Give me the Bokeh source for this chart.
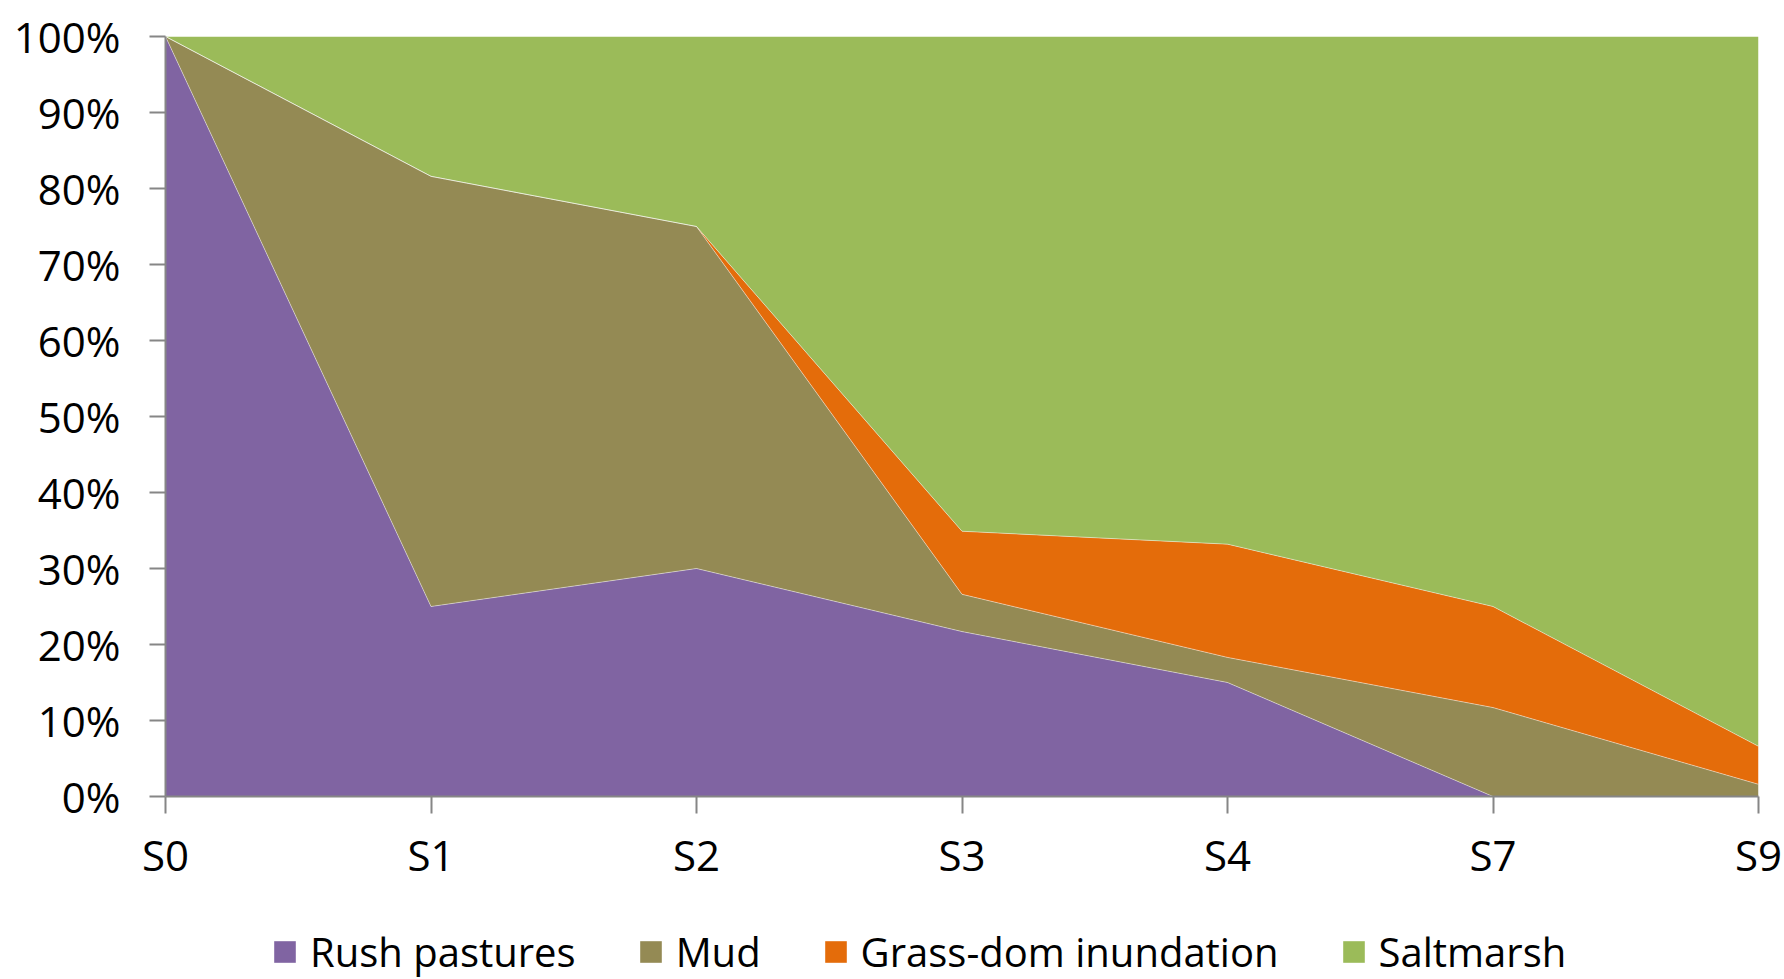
from bokeh.plotting import figure
from bokeh.layouts import column
from bokeh.models import Legend, LegendItem, FixedTicker, NumeralTickFormatter, ColumnDataSource, Range1d
from bokeh.embed import file_html
from bokeh.resources import INLINE

categories = ["S0", "S1", "S2", "S3", "S4", "S7", "S9"]
rush = [100, 25, 30, 21.7, 15, 0, 0]
mud = [0, 56.6, 45, 4.9, 3.3, 11.7, 1.6]
grass = [0, 0, 0, 8.3, 14.9, 13.3, 5.0]
salt = [0, 18.4, 25, 65.1, 66.8, 75, 93.4]

names = ["Rush pastures", "Mud", "Grass-dom inundation", "Saltmarsh"]
colors = ["#8064A2", "#948A54", "#E46C0A", "#9BBB59"]
series = [rush, mud, grass, salt]

FONT = "Open Sans"
x = list(range(len(categories)))
data = {"x": x}
for n, s in zip(names, series):
    data[n] = [v / 100.0 for v in s]
src = ColumnDataSource(data)

p = figure(width=1784, height=896, output_backend="svg", toolbar_location=None,
           x_range=Range1d(0, len(categories) - 1), y_range=Range1d(0, 1),
           min_border_left=165, min_border_right=26, min_border_top=36, min_border_bottom=100)
p.outline_line_color = None
p.xgrid.visible = False
p.ygrid.visible = False

p.varea_stack(stackers=names, x="x", color=colors, source=src)

# thin light separators between stacked layers
cum = [0.0] * len(x)
for s in series[:-1]:
    cum = [c + v / 100.0 for c, v in zip(cum, s)]
    p.line(x, list(cum), line_color="white", line_alpha=0.45, line_width=1)

p.xaxis.ticker = FixedTicker(ticks=x)
p.xaxis.major_label_overrides = {i: c for i, c in enumerate(categories)}
p.yaxis.ticker = FixedTicker(ticks=[i / 10 for i in range(11)])
p.yaxis.formatter = NumeralTickFormatter(format="0%")

for ax in (p.xaxis[0], p.yaxis[0]):
    ax.axis_line_color = "#868686"
    ax.axis_line_width = 2
    ax.major_tick_line_color = "#868686"
    ax.major_tick_line_width = 2
    ax.major_tick_in = 0
    ax.minor_tick_line_color = None
    ax.major_label_text_font = FONT
    ax.major_label_text_color = "#000000"
    ax.major_label_text_font_size = "42px"
p.xaxis.major_tick_out = 17
p.xaxis.major_label_standoff = 12
p.yaxis.major_tick_out = 16
p.yaxis.major_label_standoff = 29

# legend strip below the chart
lf = figure(width=1784, height=83, output_backend="svg", toolbar_location=None,
            x_range=Range1d(0, 1), y_range=Range1d(10, 11),
            min_border_left=0, min_border_right=0, min_border_top=0, min_border_bottom=0)
lf.axis.visible = False
lf.grid.visible = False
lf.outline_line_color = None
leg_renderers = lf.varea_stack(stackers=names, x="x", color=colors, source=src)

legend = Legend(items=[LegendItem(label=n, renderers=[r]) for n, r in zip(names, leg_renderers)],
                orientation="horizontal", location=(106, 0),
                label_text_font=FONT, label_text_font_size="40px", label_text_color="#000000",
                glyph_width=27, glyph_height=27, label_standoff=12, spacing=61,
                padding=0, margin=0, border_line_alpha=0, background_fill_alpha=0)
lf.add_layout(legend, "center")

layout = column(p, lf, spacing=0)
open("out.html", "w").write(file_html(layout, INLINE))
